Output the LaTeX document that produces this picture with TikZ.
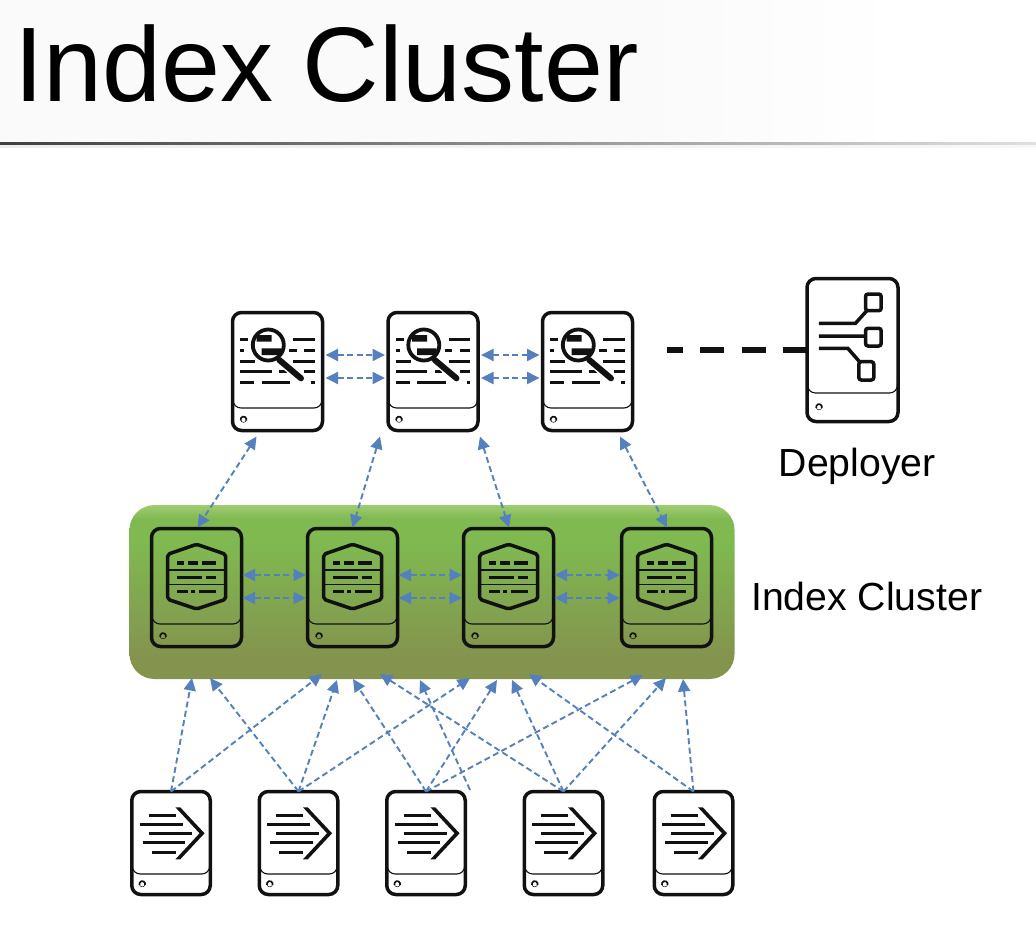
\documentclass[tikz,border=0pt]{standalone}
\usepackage{fontspec}
\setmainfont{Liberation Sans}
\usetikzlibrary{arrows.meta,calc}
\definecolor{linkblue}{HTML}{5580BE}
\definecolor{inkblack}{HTML}{111111}
\definecolor{clusterbot}{HTML}{84944E}
\definecolor{clustermid}{HTML}{7FB950}
\definecolor{clustertop}{HTML}{A0CC72}
\pgfdeclareverticalshading{clustershade}{100bp}{
  color(0bp)=(clusterbot);
  color(25bp)=(clusterbot);
  color(32bp)=(clusterbot);
  color(64bp)=(clustermid);
  color(71bp)=(clustermid);
  color(75bp)=(clustertop);
  color(100bp)=(clustertop)}
\tikzset{
  srv/.style={draw=inkblack,line width=3.5pt,rounded corners=9pt,inner sep=0pt,outer sep=0pt},
  srvthin/.style={draw=inkblack,line width=1.1pt,rounded corners=8pt},
  ink/.style={draw=inkblack,line width=3.5pt},
  fineink/.style={draw=inkblack,line width=3pt},
  biarrow/.style={draw=linkblue,line width=1.9pt,dash pattern=on 6pt off 3.5pt,{Triangle[length=12.5pt,width=12pt,fill=linkblue]}-{Triangle[length=12.5pt,width=12pt,fill=linkblue]}},
  fwdarrow/.style={draw=linkblue,line width=1.9pt,dash pattern=on 6pt off 3.5pt,-{Triangle[length=12.5pt,width=12pt,fill=linkblue]}},
  label/.style={font=\fontsize{39.2}{39.2}\selectfont,inner sep=0pt,anchor=base west,text=black},
}
% common body: node name, outer width, divider y, dot x, dot y
\newcommand{\srvbody}[5]{%
  \begin{scope}[shift={($(#1.north west)+(-1.5,-1.5)$)}]
    \draw[srvthin] (2,#3-10) -- (2,#3) -- (#2-2,#3) -- (#2-2,#3-10);
    \draw[draw=inkblack,line width=.5pt] (#4,#5) circle[radius=2.9];
    \draw[draw=inkblack,line width=1.7pt] ($(#4,#5)+(-2.7,1)$) arc[start angle=160,end angle=380,radius=2.9];
  \end{scope}}
\newcommand{\searchicon}[1]{%
  \begin{scope}[shift={($(#1.north west)+(-1.5,-1.5)$)}]
    \draw[ink] (9,28.7)--(17.3,28.7) (62.3,28.7)--(83.7,28.7)
      (9,39.7)--(13,39.7) (58,39.7)--(65.7,39.7) (73,39.7)--(83.7,39.7)
      (9,50.3)--(24,50.3) (62,50.3)--(83.7,50.3)
      (9,60.7)--(40.7,60.7) (48.3,60.7)--(55.7,60.7) (73,60.7)--(83.7,60.7)
      (9,71.3)--(23.3,71.3) (30.7,71.3)--(59,71.3) (80,71.3)--(83.7,71.3);
    \draw[white,line width=9pt] (48.3,49)--(70,67.3);
    \draw[inkblack,line width=6pt,line cap=round] (48.3,49)--(70,67.3);
    \fill[white] (37.3,34) circle[radius=15.5];
    \begin{scope}
      \clip (37.3,34) circle[radius=15.5];
      \fill[inkblack] (25.7,24) rectangle (40.7,30.7) (30.7,37.3) rectangle (50,44);
    \end{scope}
    \draw[inkblack,line width=3.8pt] (37.3,34) circle[radius=15.5];
  \end{scope}}
\newcommand{\indexicon}[1]{%
  \begin{scope}[shift={($(#1.north west)+(-1.5,-1.5)$)}]
    \draw[ink,line join=round,rounded corners=2pt] (46.7,17.3)--(75.7,27.3)--(75.7,72.3)--(46.7,82)--(17.7,72.3)--(17.7,27.3)--cycle;
    \draw[inkblack,line width=1.1pt] (17.7,43)--(75.7,43) (17.7,57.3)--(75.7,57.3);
    \draw[ink] (27.3,36)--(34,36) (38.3,36)--(48.3,36) (52.3,36)--(66,36)
      (27.3,50.3)--(51.7,50.3) (55.7,50.3)--(66,50.3)
      (27.3,64.3)--(37.7,64.3) (41,64.3)--(45,64.3) (48.7,64.3)--(66,64.3);
  \end{scope}}
\newcommand{\forwardicon}[1]{%
  \begin{scope}[shift={($(#1.north west)+(-1.5,-1.5)$)}]
    \draw[fineink] (18.3,25)--(45.7,25) (9.3,34.3)--(52.3,34.3) (18.3,43.3)--(61.3,43.3)
      (12.7,52.7)--(55,52.7) (21.7,62)--(45.7,62);
    \fill[inkblack] (45.2,17.3)--(50,17.3)--(74.3,43.3)--(50,69.3)--(45.2,69.3)--(69.3,43.3)--cycle;
  \end{scope}}
\newcommand{\deployicon}[1]{%
  \begin{scope}[shift={($(#1.north west)+(-1.5,-1.5)$)}]
    \draw[ink] (13.3,46.3)--(50,46.3)--(61.3,33.7)
      (13.3,59)--(60,59)
      (13.3,71.3)--(42.3,71.3)--(54,84.7);
    \draw[ink,rounded corners=2.5pt,fill=white] (60,17) rectangle (75.7,33.7)
      (60,51.3) rectangle (75.7,69) (53.3,84.7) rectangle (68.3,103);
  \end{scope}}
\begin{document}
\begin{tikzpicture}[x=1pt,y=-1pt]
\useasboundingbox (0,0) rectangle (1036,944);
\fill[white] (0,0) rectangle (1036,944);
% title band
\fill[black!2] (0,0) rectangle (640,142);
\shade[left color=black!2,right color=white] (640,0) rectangle (900,142);
\shade[left color=black!75,right color=black!12] (0,142.5) rectangle (1036,145.5);
\shade[left color=black!7,right color=black!3] (0,145.5) rectangle (1036,148);
\node[font=\fontsize{106}{106}\selectfont,inner sep=0pt,anchor=base west] (title) at (14,102) {Index Cluster};

% cluster
\shade[shading=clustershade,rounded corners=25pt] (129.5,505) rectangle (734.5,679);

% servers
\foreach \n/\cx in {s1/277.5,s2/433,s3/587.5}{
  \node[srv,fill=white,minimum width=90pt,minimum height=118pt] (\n) at (\cx,371.5) {};
}
\node[srv,fill=white,minimum width=91pt,minimum height=143pt] (d) at (852.5,350) {};
\foreach \n/\cx in {i1/196.5,i2/352.5,i3/508.5,i4/666.5}{
  \node[srv,minimum width=90pt,minimum height=118pt] (\n) at (\cx,587.5) {};
}
\foreach \n/\cx in {f1/171,f2/298.5,f3/426,f4/563.5,f5/693.5}{
  \node[srv,fill=white,minimum width=78.5pt,minimum height=103pt] (\n) at (\cx,843) {};
}
\foreach \n in {s1,s2,s3}{\srvbody{\n}{93}{97}{12.5}{108.5}\searchicon{\n}}
\foreach \n in {i1,i2,i3,i4}{\srvbody{\n}{93}{97}{13}{109}\indexicon{\n}}
\foreach \n in {f1,f2,f3,f4,f5}{\srvbody{\n}{81.5}{84}{12}{94}\forwardicon{\n}}
\srvbody{d}{94}{116}{13.5}{130}\deployicon{d}

% labels
\node[label] (dlabel) at (778.5,476) {Deployer};
\node[label] (clabel) at (751,610) {Index Cluster};

% deployer dashed link
\coordinate (dashend) at (667,350);
\draw[inkblack,line width=6pt,dash pattern=on 24pt off 17.5pt] (d.west) -- (dashend);

% search peers
\foreach \a/\b in {s1/s2,s2/s3}{
  \draw[biarrow] ([shift={(3pt,16.5pt)}]\a.east) -- ([shift={(-3pt,16.5pt)}]\b.west);
  \draw[biarrow] ([shift={(3pt,-6.5pt)}]\a.east) -- ([shift={(-3pt,-6.5pt)}]\b.west);
}
% indexer peers
\foreach \a/\b in {i1/i2,i2/i3,i3/i4}{
  \draw[biarrow] ([shift={(1pt,12.5pt)}]\a.east) -- ([shift={(-1.5pt,12.5pt)}]\b.west);
  \draw[biarrow] ([shift={(1pt,-10.5pt)}]\a.east) -- ([shift={(-1.5pt,-10.5pt)}]\b.west);
}
% search head to indexer
\draw[biarrow] ([shift={(-21pt,-6pt)}]s1.south) -- ([shift={(1pt,1pt)}]i1.north);
\draw[biarrow] ([shift={(-53pt,-6pt)}]s2.south) -- ([shift={(0pt,1pt)}]i2.north);
\draw[biarrow] ([shift={(47pt,-6pt)}]s2.south) -- ([shift={(0.5pt,1pt)}]i3.north);
\draw[biarrow] ([shift={(32.5pt,-6pt)}]s3.south) -- ([shift={(0.5pt,1pt)}]i4.north);

% forwarders to cluster
\foreach \n/\x/\y/\m in {
  a/192/678/f1, b/322/674/f1,
  c/210/678/f2, e/337/680/f2, g/470/678/f2,
  h/353/679/f3, j/497/680/f3, k/643/675/f3,
  l/380/674/f4, m/512/680/f4, o/666/678/f4,
  p/529/674/f5, q/683/679/f5}{
  \coordinate (t\n) at (\x,\y);
  \draw[fwdarrow] (\m.north) -- (t\n);
}
\coordinate (looseend) at (470,790);
\coordinate (loosetip) at (420,680);
\draw[fwdarrow] (looseend) -- (loosetip);
\end{tikzpicture}
\end{document}
